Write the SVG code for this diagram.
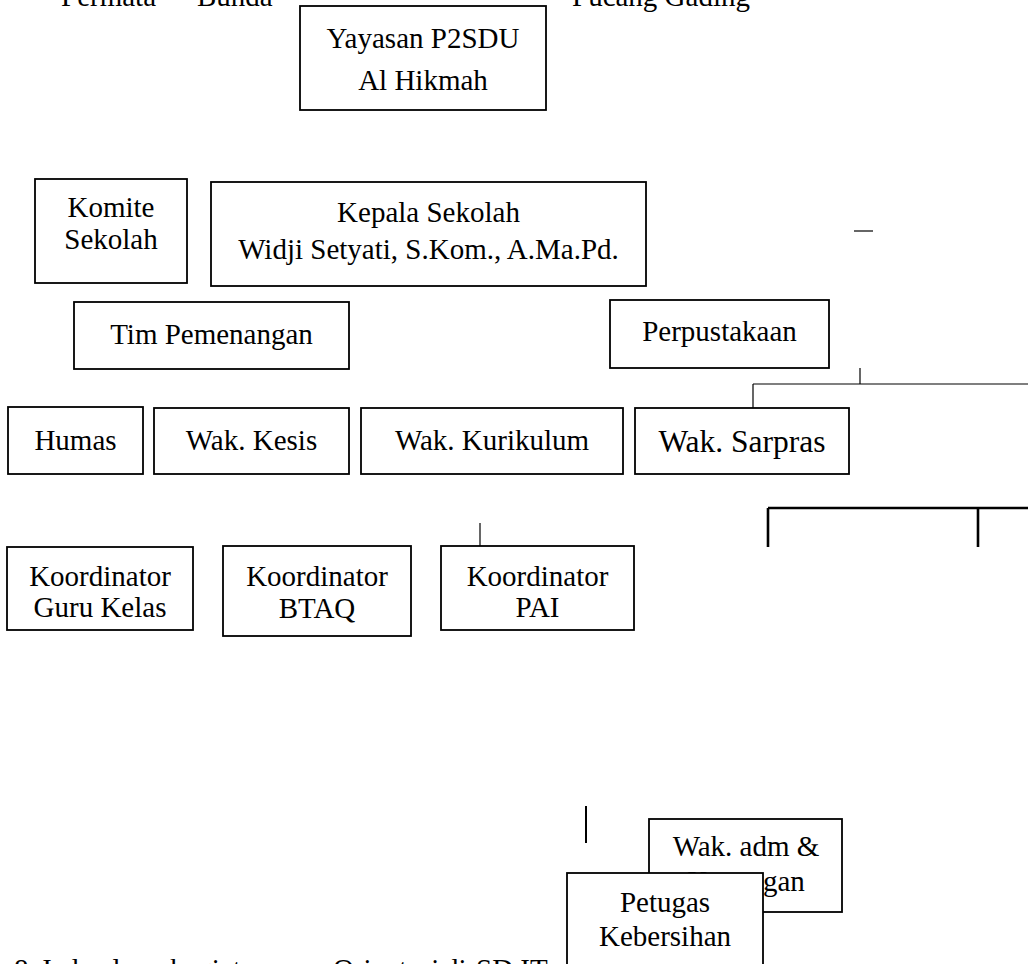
<svg xmlns="http://www.w3.org/2000/svg" width="1028" height="964" viewBox="0 0 1028 964">
<style>
  .box { fill: #ffffff; stroke: #000000; stroke-width: 1.8; }
  .t { font-family: "Liberation Serif", "Times New Roman", serif; font-size: 29px; fill: #000000; text-anchor: middle; }
  .tl { font-family: "Liberation Serif", "Times New Roman", serif; font-size: 29px; fill: #000000; }
  .thin { stroke: #000000; stroke-width: 1.2; fill: none; }
  .thick { stroke: #000000; stroke-width: 2.6; fill: none; }
</style>
<rect width="1028" height="964" fill="#ffffff"/>

<g id="heading">
  <text class="tl" x="61" y="6">Permata</text>
  <text class="tl" x="197" y="6">Bunda</text>
  <text class="tl" x="572" y="6">Pucang Gading</text>
</g>

<g id="connectors">
  <line class="thin" x1="854" y1="231" x2="873" y2="231"/>
  <line class="thin" x1="860" y1="368" x2="860" y2="384"/>
  <line class="thin" x1="753" y1="384" x2="1028" y2="384"/>
  <line class="thin" x1="753" y1="384" x2="753" y2="408"/>
  <line class="thick" x1="768" y1="508" x2="1028" y2="508"/>
  <line class="thick" x1="768" y1="508" x2="768" y2="547"/>
  <line class="thick" x1="978" y1="508" x2="978" y2="547"/>
  <line class="thin" x1="480" y1="523" x2="480" y2="546"/>
  <line class="thick" x1="586" y1="806" x2="586" y2="843" style="stroke-width:2"/>
</g>

<g id="yayasan">
  <rect class="box" x="300" y="6" width="246" height="104"/>
  <text class="t" x="423" y="48">Yayasan P2SDU</text>
  <text class="t" x="423" y="90">Al Hikmah</text>
</g>

<g id="komite">
  <rect class="box" x="35" y="179" width="152" height="104"/>
  <text class="t" x="111" y="217">Komite</text>
  <text class="t" x="111" y="249">Sekolah</text>
</g>

<g id="kepala">
  <rect class="box" x="211" y="182" width="435" height="104"/>
  <text class="t" x="428.5" y="222">Kepala Sekolah</text>
  <text class="t" x="428.5" y="259">Widji Setyati, S.Kom., A.Ma.Pd.</text>
</g>

<g id="tim">
  <rect class="box" x="74" y="302" width="275" height="67"/>
  <text class="t" x="211.5" y="344">Tim Pemenangan</text>
</g>

<g id="perpustakaan">
  <rect class="box" x="610" y="300" width="219" height="68"/>
  <text class="t" x="719.5" y="341">Perpustakaan</text>
</g>

<g id="humas">
  <rect class="box" x="8" y="407" width="135" height="67"/>
  <text class="t" x="75.5" y="450">Humas</text>
</g>

<g id="kesis">
  <rect class="box" x="154" y="408" width="195" height="66"/>
  <text class="t" x="251.5" y="450">Wak. Kesis</text>
</g>

<g id="kurikulum">
  <rect class="box" x="361" y="408" width="262" height="66"/>
  <text class="t" x="492" y="450">Wak. Kurikulum</text>
</g>

<g id="sarpras">
  <rect class="box" x="635" y="408" width="214" height="66"/>
  <text class="t" x="742" y="452" style="font-size:31.5px">Wak. Sarpras</text>
</g>

<g id="koor-guru">
  <rect class="box" x="7" y="547" width="186" height="83"/>
  <text class="t" x="100" y="586">Koordinator</text>
  <text class="t" x="100" y="617">Guru Kelas</text>
</g>

<g id="koor-btaq">
  <rect class="box" x="223" y="546" width="188" height="90"/>
  <text class="t" x="317" y="586">Koordinator</text>
  <text class="t" x="317" y="618">BTAQ</text>
</g>

<g id="koor-pai">
  <rect class="box" x="441" y="546" width="193" height="84"/>
  <text class="t" x="537.5" y="586">Koordinator</text>
  <text class="t" x="537.5" y="617">PAI</text>
</g>

<g id="wak-adm">
  <rect class="box" x="649" y="819" width="193" height="93"/>
  <text class="t" x="746" y="856">Wak. adm &amp;</text>
  <text class="t" x="746" y="891">Keuangan</text>
</g>

<g id="petugas">
  <rect class="box" x="567" y="873" width="196" height="110"/>
  <text class="t" x="665" y="912">Petugas</text>
  <text class="t" x="665" y="946">Kebersihan</text>
</g>

<g id="caption">
  <text class="tl" y="979"><tspan x="14">8.</tspan><tspan x="40">Jadwal</tspan><tspan x="170">kegiatan</tspan><tspan x="333">Orientasi</tspan><tspan x="444">di</tspan><tspan x="476">SD IT</tspan></text>
</g>
</svg>
